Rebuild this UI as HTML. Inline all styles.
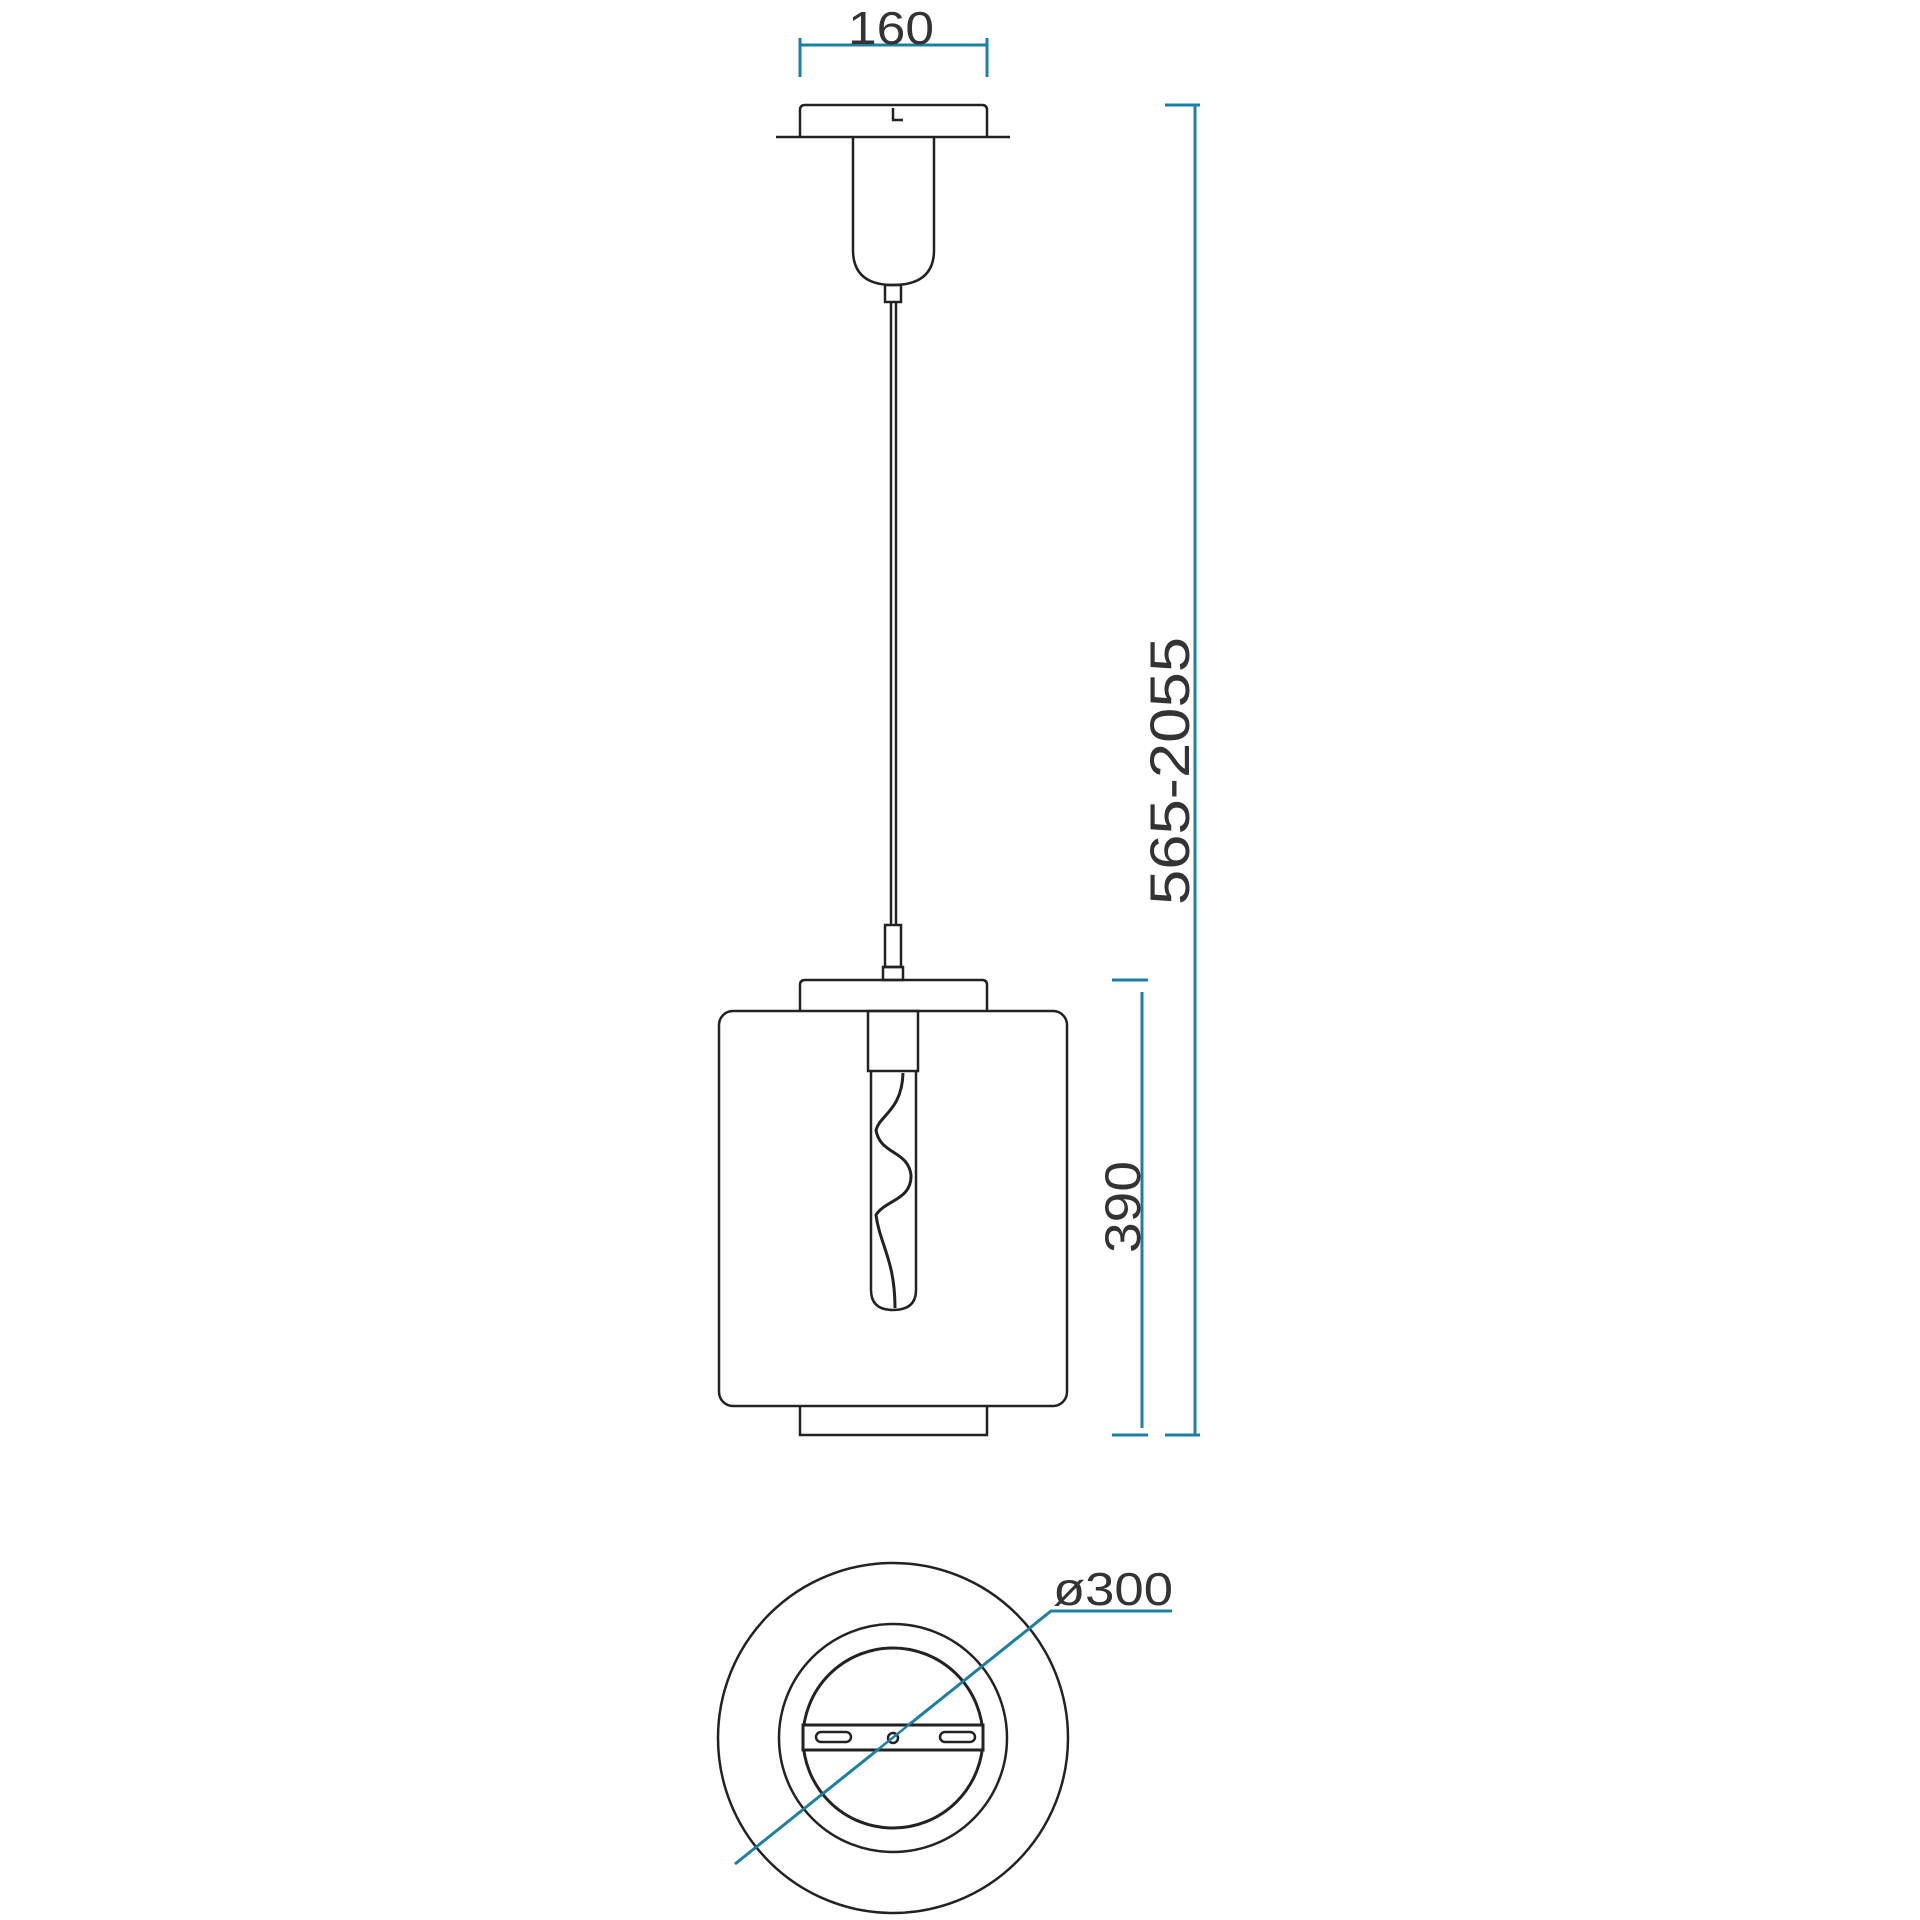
<!DOCTYPE html>
<html><head><meta charset="utf-8"><style>
html,body{margin:0;padding:0;background:#fff;}
svg{display:block;}
text{font-family:"Liberation Sans","DejaVu Sans",sans-serif;fill:#333;}
</style></head><body>
<svg width="1920" height="1920" viewBox="0 0 1920 1920" xmlns="http://www.w3.org/2000/svg">
<g fill="none" stroke="#1b80a3" stroke-width="3">
  <!-- 160 -->
  <line x1="800" y1="45" x2="987" y2="45"/>
  <line x1="800" y1="38" x2="800" y2="77"/>
  <line x1="987" y1="38" x2="987" y2="77"/>
  <!-- total -->
  <line x1="1195" y1="105" x2="1195" y2="1435"/>
  <line x1="1165" y1="105" x2="1200" y2="105"/>
  <line x1="1165" y1="1435" x2="1200" y2="1435"/>
  <!-- 390 -->
  <line x1="1142" y1="992" x2="1142" y2="1428"/>
  <line x1="1112" y1="980" x2="1148" y2="980"/>
  <line x1="1112" y1="1435" x2="1148" y2="1435"/>
  <!-- diameter -->
  <polyline points="735,1864 1051,1611 1172,1611"/>
</g>
<text x="891" y="44" font-size="46" text-anchor="middle" textLength="86" lengthAdjust="spacingAndGlyphs">160</text>
<text transform="translate(1189,771) rotate(-90)" font-size="56" text-anchor="middle" textLength="268" lengthAdjust="spacingAndGlyphs">565-2055</text>
<text transform="translate(1140,1207) rotate(-90)" font-size="50" text-anchor="middle" textLength="92" lengthAdjust="spacingAndGlyphs">390</text>
<text x="1053" y="1605" font-size="46" textLength="120" lengthAdjust="spacingAndGlyphs">ø300</text>

<g fill="none" stroke="#222" stroke-width="2.5">
  <!-- canopy -->
  <path d="M800,137 L800,110 Q800,105 805,105 L982,105 Q987,105 987,110 L987,137"/>
  <line x1="776" y1="137" x2="1010" y2="137"/>
  <path d="M893,108 L893,120 L903,120"/>
  <path d="M853,137 L853,250 Q853,285 893,285 Q934,285 934,250 L934,137"/>
  <rect x="885" y="285" width="16" height="17"/>
  <line x1="891" y1="302" x2="891" y2="925"/>
  <line x1="896" y1="302" x2="896" y2="925"/>
  <rect x="885" y="925" width="16" height="42"/>
  <rect x="883" y="967" width="20" height="13"/>
  <!-- collars & shade -->
  <path d="M800,1011 L800,985 Q800,980 805,980 L982,980 Q987,980 987,985 L987,1011"/>
  <rect x="719" y="1011" width="348" height="395" rx="14"/>
  <path d="M800,1406 L800,1435 L987,1435 L987,1406"/>
  <rect x="868" y="1011" width="50" height="60"/>
  <path d="M871,1071 L871,1290 Q871,1310 893,1310 Q916,1310 916,1290 L916,1071"/>
  <path d="M903,1073 C902,1110 880,1115 876,1130 C880,1155 908,1150 911,1175 C912,1200 885,1200 876,1215 C880,1245 895,1260 895,1308" stroke-width="3"/>
  <!-- plan view -->
  <circle cx="893" cy="1738" r="175"/>
  <circle cx="893" cy="1738" r="114"/>
  <circle cx="893" cy="1738" r="90" stroke-width="3"/>
  <rect x="803" y="1725" width="180" height="25" stroke-width="3" fill="#fff"/>
  <rect x="816" y="1732" width="35" height="10" rx="5"/>
  <rect x="940" y="1732" width="35" height="10" rx="5"/>
  <circle cx="893" cy="1738" r="5"/>
</g>
<line x1="735" y1="1864" x2="1051" y2="1611" stroke="#1b80a3" stroke-width="2.5"/>
</svg>
</body></html>
